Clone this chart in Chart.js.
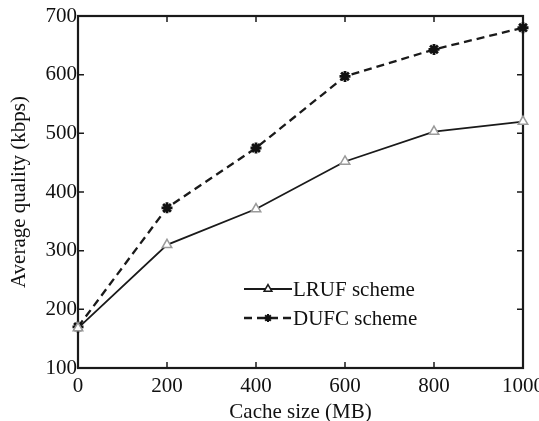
<!DOCTYPE html>
<html>
<head>
<meta charset="utf-8">
<script src="https://cdn.jsdelivr.net/npm/chart.js@4/dist/chart.umd.min.js"></script>
<style>
html,body{margin:0;padding:0;background:#fff;}
#wrap{width:539px;height:421px;position:relative;}
</style>
</head>
<body>
<div id="wrap"><canvas id="c" width="539" height="421"></canvas></div>
<script>
const cacheSizes = [0, 200, 400, 600, 800, 1000];
const lrufValues = [168, 310, 371, 452, 503, 520];
const dufcValues = [170, 373, 475, 597, 643, 680];
const yTicks = [100, 200, 300, 400, 500, 600, 700];
const xTicks = [0, 200, 400, 600, 800, 1000];
const seriesNames = ['LRUF scheme', 'DUFC scheme'];
const xTitle = 'Cache size (MB)';
const yTitle = 'Average quality (kbps)';

const FONT = 'Liberation Serif, Times New Roman, serif';
const FS = 21;

const framePlugin = {
  id: 'frame',
  beforeDatasetsDraw(chart) {
    const {ctx, chartArea: a, scales: {x, y}} = chart;
    ctx.save();
    ctx.strokeStyle = '#1a1a1a';
    ctx.lineWidth = 1.5;
    const L = 6;
    ctx.beginPath();
    yTicks.forEach(v => {
      const py = y.getPixelForValue(v);
      ctx.moveTo(a.left, py); ctx.lineTo(a.left + L, py);
      ctx.moveTo(a.right, py); ctx.lineTo(a.right - L, py);
    });
    xTicks.forEach(v => {
      const px = x.getPixelForValue(v);
      ctx.moveTo(px, a.top); ctx.lineTo(px, a.top + L);
      ctx.moveTo(px, a.bottom); ctx.lineTo(px, a.bottom - L);
    });
    ctx.stroke();
    ctx.lineWidth = 2.2;
    ctx.strokeRect(a.left, a.top, a.right - a.left, a.bottom - a.top);
    ctx.restore();
  }
};

const legendPlugin = {
  id: 'inlineLegend',
  afterDatasetsDraw(chart) {
    const {ctx} = chart;
    const x0 = 244, x1 = 292, rows = [289, 318];
    ctx.save();
    chart.data.datasets.forEach((ds, i) => {
      const yy = rows[i];
      ctx.strokeStyle = ds.borderColor;
      ctx.lineWidth = ds.borderWidth;
      ctx.setLineDash(ds.borderDash || []);
      ctx.beginPath(); ctx.moveTo(x0, yy); ctx.lineTo(x1, yy); ctx.stroke();
      ctx.setLineDash([]);
      ctx.fillStyle = ds.legendPointFill;
      ctx.strokeStyle = ds.legendPointColor;
      ctx.lineWidth = ds.legendPointWidth;
      Chart.helpers.drawPoint(ctx, {pointStyle: ds.pointStyle, radius: ds.legendPointRadius, rotation: 0, borderWidth: ds.legendPointWidth}, (x0 + x1) / 2, yy);
      ctx.fillStyle = '#111';
      ctx.font = FS + 'px ' + FONT;
      ctx.textBaseline = 'middle';
      ctx.textAlign = 'left';
      ctx.fillText(ds.label, x1 + 1, yy + 1);
    });
    ctx.restore();
  }
};

new Chart(document.getElementById('c'), {
  type: 'line',
  data: {
    labels: cacheSizes,
    datasets: [
      {
        label: seriesNames[0],
        data: cacheSizes.map((c, i) => ({x: c, y: lrufValues[i]})),
        borderColor: '#1a1a1a',
        borderWidth: 1.8,
        pointStyle: 'triangle',
        pointRadius: 5.5,
        pointBackgroundColor: '#ffffff',
        pointBorderColor: '#9a9a9a',
        pointBorderWidth: 1.5,
        legendPointFill: '#ffffff',
        legendPointColor: '#1a1a1a',
        legendPointRadius: 4.5,
        legendPointWidth: 1.5,
        tension: 0,
        clip: false
      },
      {
        label: seriesNames[1],
        data: cacheSizes.map((c, i) => ({x: c, y: dufcValues[i]})),
        borderColor: '#1a1a1a',
        borderWidth: 2.3,
        borderDash: [8, 5],
        pointStyle: 'star',
        pointRadius: 5.5,
        pointBackgroundColor: '#111',
        pointBorderColor: '#111',
        pointBorderWidth: 2.8,
        legendPointFill: '#111',
        legendPointColor: '#111',
        legendPointRadius: 4,
        legendPointWidth: 2,
        tension: 0,
        clip: false
      }
    ]
  },
  options: {
    responsive: false,
    animation: false,
    devicePixelRatio: 1,
    layout: {padding: {top: 16, right: 16, left: 0, bottom: 0}},
    plugins: {legend: {display: false}, tooltip: {enabled: false}},
    scales: {
      x: {
        type: 'linear',
        min: 0, max: 1000,
        afterBuildTicks(s) { s.ticks = xTicks.map(v => ({value: v})); },
        afterFit(s) { s.height = 53; s.paddingLeft = 0; s.paddingRight = 0; },
        grid: {display: false, drawTicks: false},
        border: {display: false},
        ticks: {color: '#111', font: {family: FONT, size: FS}, padding: 6, maxRotation: 0,
          callback: v => String(v)},
        title: {display: true, text: xTitle, color: '#111', font: {family: FONT, size: FS, lineHeight: 0.8}, padding: {top: 0, bottom: 0}}
      },
      y: {
        type: 'linear',
        min: 100, max: 700,
        afterBuildTicks(s) { s.ticks = yTicks.map(v => ({value: v})); },
        afterFit(s) { s.width = 78; s.paddingTop = 0; s.paddingBottom = 0; },
        grid: {display: false, drawTicks: false},
        border: {display: false},
        ticks: {color: '#111', font: {family: FONT, size: FS}, padding: 1,
          callback: v => String(v)},
        title: {display: true, text: yTitle, color: '#111', font: {family: FONT, size: FS, lineHeight: 1}, padding: {top: 9, bottom: 0}}
      }
    }
  },
  plugins: [framePlugin, legendPlugin]
});
</script>
</body>
</html>
